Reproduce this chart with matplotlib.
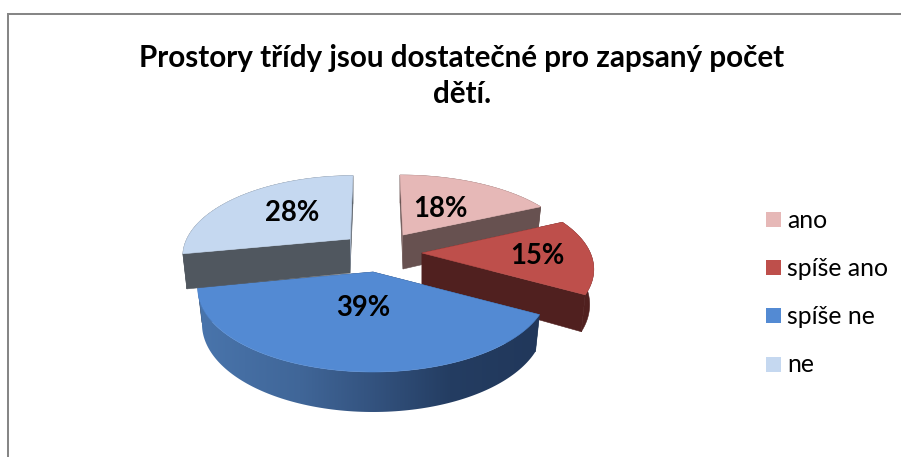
import numpy as np
import matplotlib
matplotlib.use("Agg")
import matplotlib.pyplot as plt
from matplotlib.patches import Polygon, Rectangle

title = "Prostory třídy jsou dostatečné pro zapsaný počet\ndětí."
categories = ["ano", "spíše ano", "spíše ne", "ne"]
values = [18, 15, 39, 28]

top_colors = ["#E6B8B7", "#BE4F4B", "#538AD3", "#C5D8F0"]
side_colors = ["#675150", "#50201F", "#21385A", "#50575F"]
sliver_colors = ["#8A7371", None, None, "#A4B2C6"]
apexes = [(403, 235), (422, 253), (373, 272), (350, 239)]
scale_a = [0.98, 0.99, 1.01, 0.96]
scale_b = [0.90, 0.98, 1.0, 0.95]
lean = [-3.0, 0.0, 0.0, 3.0]
label_xy = [(440, 209), (537, 256), (363, 308), (292, 213)]
legend_y = [220, 268, 316, 365]

A, B, K = 170.0, 80.0, 0.2


def project(i, theta):
    u, v = np.sin(theta), np.cos(theta)
    s = 1.0 / (1.0 + K * v)
    return (apexes[i][0] + A * scale_a[i] * u * s + lean[i] * v,
            apexes[i][1] - B * scale_b[i] * v * s)


def lower(apex, x, y, v):
    depth = 34.0 - 6.0 * v
    return apex[0] + (x - apex[0]) * 0.976, y + depth


fig = plt.figure(figsize=(9.01, 4.57), dpi=100, facecolor="white")
ax = fig.add_axes([0, 0, 1, 1])

ax.plot([8, 8, 901], [457, 14.3, 14.3], color="#868686", lw=1.45,
        solid_joinstyle="miter", zorder=1)

fractions = np.array(values, dtype=float) / sum(values)
edges = np.concatenate([[0], np.cumsum(fractions)]) * 2 * np.pi

# horizontal shading of the front wall of the blue slice
grad_x = np.array([190, 300, 375, 450, 545], dtype=float)
grad_c = np.array([[0x4A, 0x76, 0xAE], [0x40, 0x66, 0x98], [0x33, 0x52, 0x7E],
                   [0x24, 0x3D, 0x62], [0x21, 0x37, 0x5A]]) / 255

for i in range(len(values)):
    t0, t1 = edges[i], edges[i + 1]
    apex = apexes[i]
    z = 10 + i * 5
    th = np.linspace(t0, t1, 121)
    xs, ys = project(i, th)
    lx, ly = lower(apex, xs, ys, np.cos(th))
    apex_low = (apex[0], apex[1] + 34)

    for xe, ye, lxe, lye in [(xs[0], ys[0], lx[0], ly[0]), (xs[-1], ys[-1], lx[-1], ly[-1])]:
        ax.add_patch(Polygon([apex, (xe, ye), (lxe, lye), apex_low], closed=True,
                             fc=side_colors[i], ec=side_colors[i], lw=0.4, zorder=z))
    q = list(zip(xs, ys)) + list(zip(lx[::-1], ly[::-1]))
    if categories[i] == "spíše ne":
        wall = Polygon(q, closed=True, fc="none", ec="none", transform=ax.transData)
        ax.add_patch(wall)
        px = np.arange(190, 546)
        img = np.stack([np.interp(px, grad_x, grad_c[:, n]) for n in range(3)], axis=-1)[None, :, :]
        im = ax.imshow(img, extent=(190, 546, 420, 270), aspect="auto", zorder=z + 1,
                       interpolation="bilinear")
        im.set_clip_path(wall)
    else:
        ax.add_patch(Polygon(q, closed=True, fc=side_colors[i], ec=side_colors[i], lw=0.4, zorder=z + 1))
    if sliver_colors[i]:
        k = 0 if categories[i] == "ano" else -1
        ax.add_patch(Polygon([(xs[k], ys[k]), apex, apex_low], closed=True,
                             fc=sliver_colors[i], ec="none", zorder=z + 2))
    q = [apex] + list(zip(xs, ys))
    ax.add_patch(Polygon(q, closed=True, fc=top_colors[i], ec=top_colors[i], lw=0.4, zorder=z + 3))

ax.set_xlim(0, 901)
ax.set_ylim(457, 0)
ax.axis("off")

for v, (x, y) in zip(values, label_xy):
    ax.text(x, y, f"{v}%", ha="center", va="center", family="Lato",
            fontweight="bold", fontsize=19.8, color="black", zorder=50)

ax.text(462, 76, title, ha="center", va="center", family="Lato", fontweight="bold",
        fontsize=21.3, color="black", linespacing=1.38, zorder=50)

for c, name, y in zip(top_colors, categories, legend_y):
    ax.add_patch(Rectangle((766, y - 8), 15, 15, fc=c, ec="none", zorder=50))
    ax.text(787, y, name, ha="left", va="center", family="Lato", fontsize=17.8,
            color="black", zorder=50)

fig.savefig("out.png", dpi=100, facecolor="white")
